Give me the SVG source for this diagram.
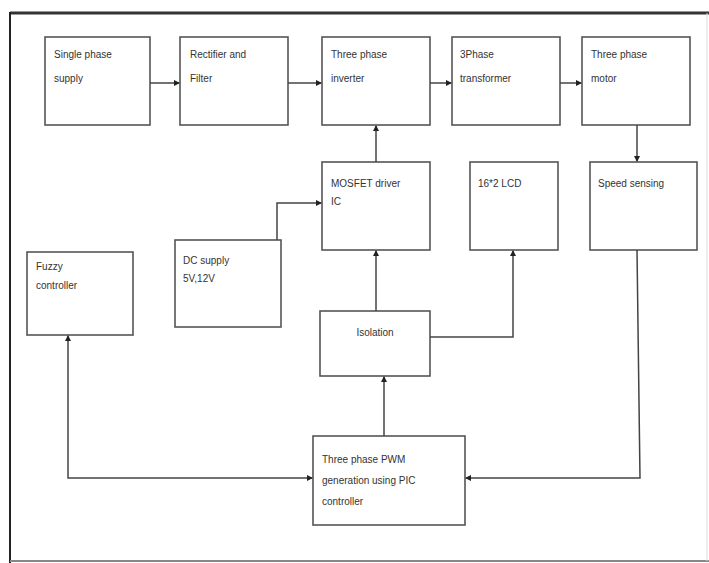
<svg xmlns="http://www.w3.org/2000/svg" width="709" height="563" viewBox="0 0 709 563">
<style>
.box{fill:#fff;stroke:#555;stroke-width:1.6}
.t{font-family:"Liberation Sans",Arial,sans-serif;font-size:10px;fill:#333}
.c{fill:none;stroke:#444;stroke-width:1.5}
</style>
<defs>
<marker id="a" markerWidth="6" markerHeight="6" refX="5" refY="3" orient="auto-start-reverse" markerUnits="userSpaceOnUse">
<path d="M0,0 L6,3 L0,6 Z" fill="#222"/>
</marker>
</defs>
<rect x="0" y="0" width="709" height="563" fill="#fff"/>
<g id="frame">
<line x1="10" y1="13" x2="709" y2="13" stroke="#333" stroke-width="3"/>
<line x1="10" y1="12" x2="10" y2="563" stroke="#222" stroke-width="2"/>
<line x1="10" y1="561" x2="709" y2="561" stroke="#888" stroke-width="2"/>
<line x1="707" y1="13" x2="707" y2="561" stroke="#ddd" stroke-width="1"/>
</g>
<g id="single"><rect class="box" x="45" y="37" width="105" height="88"/><text class="t" x="54" y="58">Single phase</text><text class="t" x="54" y="82">supply</text></g>
<g id="rectifier"><rect class="box" x="180" y="37" width="108" height="88"/><text class="t" x="190" y="58">Rectifier and</text><text class="t" x="190" y="82">Filter</text></g>
<g id="inverter"><rect class="box" x="322" y="37" width="108" height="88"/><text class="t" x="331" y="58">Three phase</text><text class="t" x="331" y="82">inverter</text></g>
<g id="transformer"><rect class="box" x="452" y="37" width="108" height="88"/><text class="t" x="460" y="58">3Phase</text><text class="t" x="460" y="82">transformer</text></g>
<g id="motor"><rect class="box" x="582" y="37" width="108" height="88"/><text class="t" x="591" y="58">Three phase</text><text class="t" x="591" y="82">motor</text></g>
<g id="mosfet"><rect class="box" x="322" y="162" width="108" height="88"/><text class="t" x="331" y="187">MOSFET driver</text><text class="t" x="331" y="205">IC</text></g>
<g id="lcd"><rect class="box" x="470" y="162" width="88" height="88"/><text class="t" x="478" y="187">16*2 LCD</text></g>
<g id="speed"><rect class="box" x="590" y="162" width="107" height="88"/><text class="t" x="598" y="187">Speed sensing</text></g>
<g id="dc"><rect class="box" x="175" y="240" width="106" height="87"/><text class="t" x="183" y="264">DC supply</text><text class="t" x="183" y="282">5V,12V</text></g>
<g id="fuzzy"><rect class="box" x="27" y="252" width="106" height="83"/><text class="t" x="36" y="270">Fuzzy</text><text class="t" x="36" y="289">controller</text></g>
<g id="isolation"><rect class="box" x="320" y="311" width="110" height="65"/><text class="t" x="375" y="336" text-anchor="middle">Isolation</text></g>
<g id="pwm"><rect class="box" x="313" y="436" width="152" height="89"/><text class="t" x="322" y="463">Three phase PWM</text><text class="t" x="322" y="484">generation using PIC</text><text class="t" x="322" y="505">controller</text></g>
<g id="connectors">
<line class="c" x1="150" y1="83" x2="179" y2="83" marker-end="url(#a)"/>
<line class="c" x1="288" y1="83" x2="321" y2="83" marker-end="url(#a)"/>
<line class="c" x1="430" y1="83" x2="451" y2="83" marker-end="url(#a)"/>
<line class="c" x1="560" y1="83" x2="581" y2="83" marker-end="url(#a)"/>
<line class="c" x1="376" y1="162" x2="376" y2="126" marker-end="url(#a)"/>
<line class="c" x1="637" y1="125" x2="637" y2="161" marker-end="url(#a)"/>
<polyline class="c" points="277,240 277,203 321,203" marker-end="url(#a)"/>
<line class="c" x1="376" y1="311" x2="376" y2="251" marker-end="url(#a)"/>
<polyline class="c" points="430,337 513,337 513,251" marker-end="url(#a)"/>
<line class="c" x1="384" y1="436" x2="384" y2="377" marker-end="url(#a)"/>
<polyline class="c" points="312,478 68,478 68,336" marker-start="url(#a)" marker-end="url(#a)"/>
<polyline class="c" points="637,250 640,478 466,478" marker-end="url(#a)"/>
</g>
</svg>
